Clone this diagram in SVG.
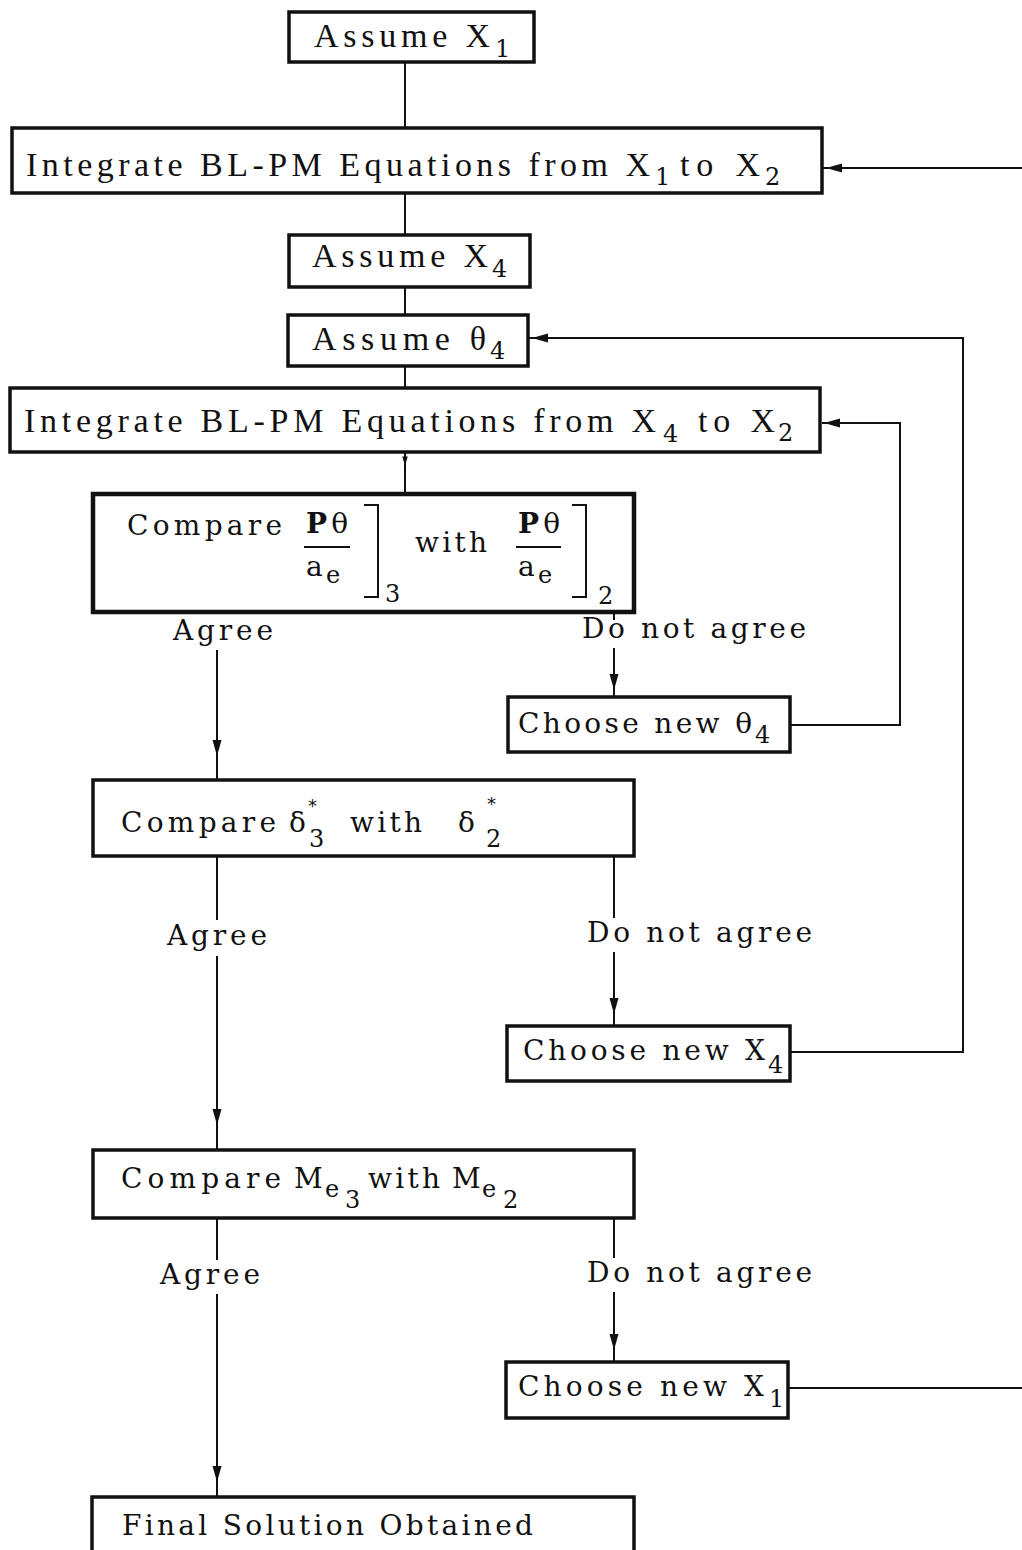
<svg xmlns="http://www.w3.org/2000/svg" xmlns:xlink="http://www.w3.org/1999/xlink" width="1022" height="1550" viewBox="0 0 1022 1550">
  <style>
    .box { fill: #fff; stroke: #111; stroke-width: 3.5; }
    .boxb { fill: #fff; stroke: #111; stroke-width: 4.5; }
    .ln { fill: none; stroke: #111; stroke-width: 2; }
    .t { font-family: "Liberation Serif", "DejaVu Serif", serif; font-size: 34px; fill: #111; }
    .r { font-family: "DejaVu Serif", "Liberation Serif", serif; font-size: 28px; fill: #111; }
    .s { font-family: "DejaVu Serif", "Liberation Serif", serif; font-size: 24px; fill: #111; }
    .st { font-family: "DejaVu Sans", sans-serif; font-size: 18px; fill: #111; }
    .ah { fill: #111; }
  </style>
  <defs>
    <!-- arrowhead pointing along +x, tip at origin -->
    <path id="ah" class="ah" d="M0,0 L-16,-4.5 L-16,4.5 Z"/>
  </defs>
  <rect width="1022" height="1550" fill="#fff"/>

  <!-- connectors -->
  <g id="connectors">
    <path class="ln" d="M405,62 V128"/>
    <path class="ln" d="M405,193 V235"/>
    <path class="ln" d="M405,287 V315"/>
    <path class="ln" d="M405,366 V388"/>
    <path class="ln" d="M405,452 V494"/>
    <use xlink:href="#ah" transform="translate(405,466) rotate(90) scale(0.6)"/>

    <!-- first comparison -->
    <path class="ln" d="M217,650 V780"/>
    <use xlink:href="#ah" transform="translate(217,756) rotate(90)"/>
    <path class="ln" d="M614,612 V620"/>
    <path class="ln" d="M614,648 V697"/>
    <use xlink:href="#ah" transform="translate(614,690) rotate(90)"/>
    <path class="ln" d="M790,725 H900 V423 H822"/>
    <use xlink:href="#ah" transform="translate(824,423) rotate(180)"/>

    <!-- second comparison -->
    <path class="ln" d="M217,856 V920"/>
    <path class="ln" d="M217,956 V1150"/>
    <use xlink:href="#ah" transform="translate(217,1125) rotate(90)"/>
    <path class="ln" d="M614,856 V918"/>
    <path class="ln" d="M614,952 V1026"/>
    <use xlink:href="#ah" transform="translate(614,1014) rotate(90)"/>
    <path class="ln" d="M790,1052 H963 V338 H528"/>
    <use xlink:href="#ah" transform="translate(532,338) rotate(180)"/>

    <!-- third comparison -->
    <path class="ln" d="M217,1218 V1260"/>
    <path class="ln" d="M217,1294 V1497"/>
    <use xlink:href="#ah" transform="translate(217,1482) rotate(90)"/>
    <path class="ln" d="M614,1218 V1258"/>
    <path class="ln" d="M614,1292 V1362"/>
    <use xlink:href="#ah" transform="translate(614,1350) rotate(90)"/>
    <path class="ln" d="M788,1388 H1022"/>
    <path class="ln" d="M1022,168 H822"/>
    <use xlink:href="#ah" transform="translate(826,168) rotate(180)"/>
  </g>

  <!-- branch labels -->
  <g id="labels">
    <text class="r" x="173" y="640" textLength="100" lengthAdjust="spacing">Agree</text>
    <text class="r" x="582" y="638" textLength="224" lengthAdjust="spacing">Do not agree</text>
    <text class="r" x="167" y="945" textLength="100" lengthAdjust="spacing">Agree</text>
    <text class="r" x="587" y="942" textLength="225" lengthAdjust="spacing">Do not agree</text>
    <text class="r" x="160" y="1284" textLength="100" lengthAdjust="spacing">Agree</text>
    <text class="r" x="587" y="1282" textLength="225" lengthAdjust="spacing">Do not agree</text>
  </g>

  <g id="assume-x1">
    <rect class="box" x="289" y="12" width="245" height="50"/>
    <text class="t" x="314" y="47" textLength="176" lengthAdjust="spacing">Assume X</text>
    <text class="s" x="495" y="57">1</text>
  </g>

  <g id="integrate-x1-x2">
    <rect class="box" x="12" y="128" width="810" height="65"/>
    <text class="t" x="26" y="176" textLength="624" lengthAdjust="spacing">Integrate BL-PM Equations from X</text>
    <text class="s" x="655" y="185">1</text>
    <text class="t" x="680" y="176" textLength="80" lengthAdjust="spacing">to X</text>
    <text class="s" x="765" y="185">2</text>
  </g>

  <g id="assume-x4">
    <rect class="box" x="289" y="235" width="241" height="52"/>
    <text class="t" x="312" y="267" textLength="176" lengthAdjust="spacing">Assume X</text>
    <text class="s" x="492" y="277">4</text>
  </g>

  <g id="assume-theta4">
    <rect class="box" x="288" y="315" width="240" height="51"/>
    <text class="t" x="312" y="350" textLength="174" lengthAdjust="spacing">Assume θ</text>
    <text class="s" x="490" y="359">4</text>
  </g>

  <g id="integrate-x4-x2">
    <rect class="box" x="10" y="388" width="810" height="64"/>
    <text class="t" x="24" y="432" textLength="632" lengthAdjust="spacing">Integrate BL-PM Equations from X</text>
    <text class="s" x="663" y="442">4</text>
    <text class="t" x="698" y="432" textLength="77" lengthAdjust="spacing">to X</text>
    <text class="s" x="778" y="441">2</text>
  </g>

  <g id="compare-ptheta">
    <rect class="boxb" x="93" y="494" width="541" height="118"/>
    <text class="r" x="127" y="535" textLength="155" lengthAdjust="spacing">Compare</text>
    <!-- P theta / a_e ] 3 -->
    <text class="r" x="306" y="533" textLength="42" lengthAdjust="spacing" font-weight="bold">P<tspan font-weight="normal">θ</tspan></text>
    <path class="ln" d="M304,547 H350"/>
    <text class="r" x="306" y="576">a</text>
    <text class="s" x="326" y="583">e</text>
    <path class="ln" d="M364,505 H378 V597 H364" stroke-width="2.5"/>
    <text class="s" x="385" y="602">3</text>
    <text class="r" x="415" y="552" textLength="72" lengthAdjust="spacing">with</text>
    <!-- P theta / a_e ] 2 -->
    <text class="r" x="518" y="533" textLength="42" lengthAdjust="spacing" font-weight="bold">P<tspan font-weight="normal">θ</tspan></text>
    <path class="ln" d="M516,547 H561"/>
    <text class="r" x="518" y="576">a</text>
    <text class="s" x="538" y="583">e</text>
    <path class="ln" d="M572,505 H586 V597 H572" stroke-width="2.5"/>
    <text class="s" x="598" y="604">2</text>
  </g>

  <g id="choose-theta4">
    <rect class="box" x="508" y="697" width="282" height="55"/>
    <text class="r" x="518" y="733" textLength="234" lengthAdjust="spacing">Choose new θ</text>
    <text class="s" x="755" y="743">4</text>
  </g>

  <g id="compare-delta">
    <rect class="box" x="93" y="780" width="541" height="76"/>
    <text class="r" x="121" y="832" textLength="155" lengthAdjust="spacing">Compare</text>
    <text class="r" x="289" y="832">δ</text>
    <text class="st" x="308" y="812">*</text>
    <text class="s" x="309" y="847">3</text>
    <text class="r" x="350" y="832" textLength="72" lengthAdjust="spacing">with</text>
    <text class="r" x="458" y="832">δ</text>
    <text class="st" x="487" y="810">*</text>
    <text class="s" x="486" y="847">2</text>
  </g>

  <g id="choose-x4">
    <rect class="box" x="507" y="1026" width="283" height="55"/>
    <text class="r" x="523" y="1060" textLength="242" lengthAdjust="spacing">Choose new X</text>
    <text class="s" x="768" y="1073">4</text>
  </g>

  <g id="compare-me">
    <rect class="box" x="93" y="1150" width="541" height="68"/>
    <text class="r" x="121" y="1188" textLength="160" lengthAdjust="spacing">Compare</text>
    <text class="r" x="294" y="1188">M</text>
    <text class="s" x="325" y="1197">e</text>
    <text class="s" x="345" y="1208">3</text>
    <text class="r" x="368" y="1188" textLength="72" lengthAdjust="spacing">with</text>
    <text class="r" x="452" y="1188">M</text>
    <text class="s" x="482" y="1197">e</text>
    <text class="s" x="503" y="1208">2</text>
  </g>

  <g id="choose-x1">
    <rect class="box" x="506" y="1362" width="282" height="56"/>
    <text class="r" x="518" y="1396" textLength="246" lengthAdjust="spacing">Choose new X</text>
    <text class="s" x="769" y="1407">1</text>
  </g>

  <g id="final-solution">
    <rect class="box" x="92" y="1497" width="542" height="70"/>
    <text class="r" x="122" y="1535" textLength="411" lengthAdjust="spacing">Final Solution Obtained</text>
  </g>
</svg>
